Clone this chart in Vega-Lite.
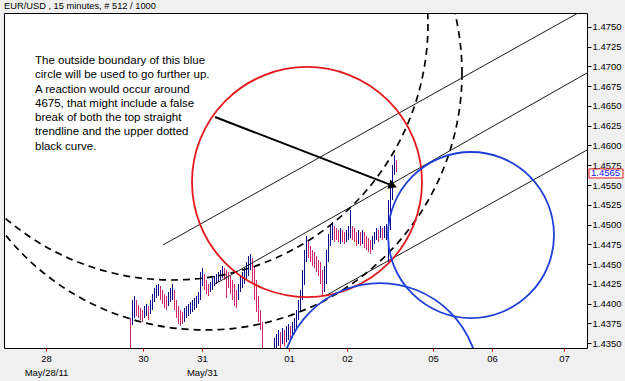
{
  "$schema": "https://vega.github.io/schema/vega-lite/v6.json",
  "width": 583,
  "height": 335,
  "autosize": {"type": "none"},
  "padding": {"left": 4, "top": 13, "right": 38, "bottom": 33},
  "background": "#f0f0f0",
  "config": {
    "view": {"stroke": "#000000", "strokeWidth": 1, "fill": "#ffffff"},
    "font": "Liberation Sans"
  },
  "title": {"text": "EUR/USD , 15 minutes, # 512 / 1000", "anchor": "start", "frame": "group", "fontSize": 9.3, "fontWeight": "normal", "font": "Liberation Sans", "color": "#000000", "offset": 2},
  "encoding": {
    "x": {"field": "t", "type": "quantitative", "scale": {"domain": [0, 583], "nice": false, "zero": false},
      "axis": {"title": null, "values": [42, 139, 198, 285, 343, 429, 488, 560], "grid": false, "domain": false, "tickSize": 3, "tickColor": "#d00000", "labelFontSize": 9.5, "labelColor": "#000000", "labelPadding": 2, "labelLineHeight": 14, "labelOverlap": false, "labelFlush": false,
        "labelExpr": "datum.value == 42 ? ['28', 'May/28/11'] : datum.value == 139 ? '30' : datum.value == 198 ? ['31', 'May/31'] : datum.value == 285 ? '01' : datum.value == 343 ? '02' : datum.value == 429 ? '05' : datum.value == 488 ? '06' : '07'"}},
    "y": {"field": "p", "type": "quantitative", "scale": {"domain": [1.43437, 1.47677], "nice": false, "zero": false},
      "axis": {"title": null, "orient": "right", "values": [1.435, 1.4375, 1.44, 1.4425, 1.445, 1.4475, 1.45, 1.4525, 1.455, 1.4575, 1.46, 1.4625, 1.465, 1.4675, 1.47, 1.4725, 1.475], "format": ".4f", "grid": false, "domain": false, "tickSize": 4, "tickColor": "#000000", "labelFontSize": 9.5, "labelColor": "#000000", "labelPadding": 1, "labelOverlap": false, "labelFlush": false}}
  },
  "layer": [
    {
      "data": {"values": [
        {"t":126,"p2":1.43817,"p":1.43285,"d":"d"},
        {"t":128,"p2":1.44044,"p":1.43728,"d":"u"},
        {"t":130,"p2":1.44095,"p":1.43817,"d":"u"},
        {"t":132,"p2":1.44044,"p":1.43842,"d":"d"},
        {"t":134,"p2":1.43981,"p":1.43817,"d":"d"},
        {"t":136,"p2":1.43943,"p":1.43791,"d":"d"},
        {"t":138,"p2":1.43918,"p":1.43766,"d":"d"},
        {"t":140,"p2":1.43968,"p":1.43817,"d":"u"},
        {"t":142,"p2":1.43994,"p":1.43842,"d":"u"},
        {"t":144,"p2":1.43968,"p":1.43791,"d":"d"},
        {"t":146,"p2":1.44044,"p":1.43867,"d":"u"},
        {"t":148,"p2":1.44120,"p":1.43918,"d":"u"},
        {"t":150,"p2":1.44196,"p":1.44019,"d":"u"},
        {"t":152,"p2":1.44234,"p":1.44070,"d":"u"},
        {"t":154,"p2":1.44247,"p":1.44095,"d":"u"},
        {"t":156,"p2":1.44222,"p":1.44044,"d":"d"},
        {"t":158,"p2":1.44171,"p":1.43994,"d":"d"},
        {"t":160,"p2":1.44120,"p":1.43943,"d":"d"},
        {"t":162,"p2":1.44095,"p":1.43918,"d":"d"},
        {"t":164,"p2":1.44146,"p":1.43968,"d":"u"},
        {"t":166,"p2":1.44196,"p":1.44019,"d":"u"},
        {"t":168,"p2":1.44247,"p":1.44044,"d":"u"},
        {"t":170,"p2":1.44171,"p":1.43918,"d":"d"},
        {"t":172,"p2":1.44044,"p":1.43817,"d":"d"},
        {"t":174,"p2":1.43968,"p":1.43741,"d":"d"},
        {"t":176,"p2":1.43918,"p":1.43715,"d":"d"},
        {"t":178,"p2":1.43892,"p":1.43741,"d":"d"},
        {"t":180,"p2":1.43943,"p":1.43766,"d":"u"},
        {"t":182,"p2":1.43968,"p":1.43817,"d":"u"},
        {"t":184,"p2":1.43994,"p":1.43842,"d":"u"},
        {"t":186,"p2":1.44019,"p":1.43867,"d":"u"},
        {"t":188,"p2":1.44044,"p":1.43892,"d":"u"},
        {"t":190,"p2":1.44070,"p":1.43918,"d":"u"},
        {"t":192,"p2":1.44095,"p":1.43943,"d":"u"},
        {"t":194,"p2":1.44146,"p":1.43994,"d":"u"},
        {"t":196,"p2":1.44399,"p":1.44044,"d":"u"},
        {"t":198,"p2":1.44449,"p":1.44222,"d":"u"},
        {"t":200,"p2":1.44373,"p":1.44171,"d":"d"},
        {"t":202,"p2":1.44298,"p":1.44120,"d":"d"},
        {"t":204,"p2":1.44247,"p":1.44095,"d":"d"},
        {"t":206,"p2":1.44272,"p":1.44146,"d":"u"},
        {"t":208,"p2":1.44323,"p":1.44171,"d":"u"},
        {"t":210,"p2":1.44348,"p":1.44222,"d":"u"},
        {"t":212,"p2":1.44373,"p":1.44247,"d":"u"},
        {"t":214,"p2":1.44399,"p":1.44272,"d":"u"},
        {"t":216,"p2":1.44424,"p":1.44298,"d":"u"},
        {"t":218,"p2":1.44475,"p":1.44323,"d":"u"},
        {"t":220,"p2":1.44449,"p":1.44298,"d":"d"},
        {"t":222,"p2":1.44424,"p":1.44070,"d":"d"},
        {"t":224,"p2":1.44399,"p":1.44196,"d":"d"},
        {"t":226,"p2":1.44348,"p":1.44120,"d":"d"},
        {"t":228,"p2":1.44298,"p":1.44044,"d":"d"},
        {"t":230,"p2":1.44247,"p":1.43968,"d":"d"},
        {"t":232,"p2":1.44171,"p":1.43943,"d":"d"},
        {"t":234,"p2":1.44247,"p":1.44044,"d":"u"},
        {"t":236,"p2":1.44348,"p":1.44146,"d":"u"},
        {"t":238,"p2":1.44399,"p":1.44196,"d":"u"},
        {"t":240,"p2":1.44449,"p":1.44247,"d":"u"},
        {"t":242,"p2":1.44525,"p":1.44298,"d":"u"},
        {"t":244,"p2":1.44601,"p":1.44348,"d":"u"},
        {"t":246,"p2":1.44627,"p":1.44424,"d":"u"},
        {"t":248,"p2":1.44576,"p":1.44272,"d":"d"},
        {"t":250,"p2":1.44475,"p":1.44044,"d":"d"},
        {"t":252,"p2":1.44298,"p":1.43892,"d":"d"},
        {"t":254,"p2":1.44095,"p":1.43766,"d":"d"},
        {"t":256,"p2":1.43918,"p":1.43665,"d":"d"},
        {"t":258,"p2":1.43766,"p":1.43285,"d":"d"},
        {"t":270,"p2":1.43563,"p":1.43285,"d":"u"},
        {"t":272,"p2":1.43614,"p":1.43386,"d":"u"},
        {"t":274,"p2":1.43665,"p":1.43462,"d":"u"},
        {"t":276,"p2":1.43639,"p":1.43437,"d":"d"},
        {"t":278,"p2":1.43690,"p":1.43487,"d":"u"},
        {"t":280,"p2":1.43665,"p":1.43462,"d":"d"},
        {"t":282,"p2":1.43715,"p":1.43513,"d":"u"},
        {"t":284,"p2":1.43741,"p":1.43538,"d":"u"},
        {"t":286,"p2":1.43715,"p":1.43538,"d":"d"},
        {"t":288,"p2":1.43766,"p":1.43563,"d":"u"},
        {"t":290,"p2":1.43817,"p":1.43614,"d":"u"},
        {"t":292,"p2":1.43918,"p":1.43665,"d":"u"},
        {"t":294,"p2":1.44044,"p":1.43791,"d":"u"},
        {"t":296,"p2":1.44171,"p":1.43892,"d":"u"},
        {"t":298,"p2":1.44424,"p":1.44044,"d":"u"},
        {"t":300,"p2":1.44677,"p":1.44234,"d":"u"},
        {"t":302,"p2":1.44855,"p":1.44525,"d":"u"},
        {"t":304,"p2":1.44804,"p":1.44576,"d":"d"},
        {"t":306,"p2":1.44728,"p":1.44525,"d":"d"},
        {"t":308,"p2":1.44677,"p":1.44475,"d":"d"},
        {"t":310,"p2":1.44652,"p":1.44449,"d":"d"},
        {"t":312,"p2":1.44601,"p":1.44399,"d":"d"},
        {"t":314,"p2":1.44551,"p":1.44348,"d":"d"},
        {"t":316,"p2":1.44525,"p":1.44247,"d":"d"},
        {"t":318,"p2":1.44424,"p":1.44095,"d":"d"},
        {"t":320,"p2":1.44475,"p":1.44146,"d":"u"},
        {"t":322,"p2":1.44677,"p":1.44247,"d":"u"},
        {"t":324,"p2":1.44880,"p":1.44525,"d":"u"},
        {"t":326,"p2":1.45006,"p":1.44728,"d":"u"},
        {"t":328,"p2":1.45032,"p":1.44804,"d":"u"},
        {"t":330,"p2":1.44981,"p":1.44779,"d":"d"},
        {"t":332,"p2":1.44956,"p":1.44804,"d":"d"},
        {"t":334,"p2":1.44930,"p":1.44779,"d":"d"},
        {"t":336,"p2":1.44956,"p":1.44753,"d":"u"},
        {"t":338,"p2":1.44930,"p":1.44779,"d":"d"},
        {"t":340,"p2":1.44905,"p":1.44753,"d":"d"},
        {"t":342,"p2":1.44930,"p":1.44779,"d":"u"},
        {"t":344,"p2":1.44981,"p":1.44804,"d":"u"},
        {"t":346,"p2":1.45184,"p":1.44829,"d":"u"},
        {"t":348,"p2":1.44981,"p":1.44804,"d":"d"},
        {"t":350,"p2":1.44956,"p":1.44779,"d":"d"},
        {"t":352,"p2":1.44905,"p":1.44728,"d":"d"},
        {"t":354,"p2":1.44930,"p":1.44753,"d":"u"},
        {"t":356,"p2":1.44905,"p":1.44728,"d":"d"},
        {"t":358,"p2":1.44930,"p":1.44753,"d":"u"},
        {"t":360,"p2":1.44905,"p":1.44703,"d":"d"},
        {"t":362,"p2":1.44855,"p":1.44677,"d":"d"},
        {"t":364,"p2":1.44829,"p":1.44652,"d":"d"},
        {"t":366,"p2":1.44804,"p":1.44627,"d":"d"},
        {"t":368,"p2":1.44855,"p":1.44677,"d":"u"},
        {"t":370,"p2":1.44905,"p":1.44753,"d":"u"},
        {"t":372,"p2":1.44956,"p":1.44804,"d":"u"},
        {"t":374,"p2":1.44930,"p":1.44779,"d":"d"},
        {"t":376,"p2":1.44981,"p":1.44829,"d":"u"},
        {"t":378,"p2":1.44956,"p":1.44804,"d":"d"},
        {"t":380,"p2":1.44981,"p":1.44829,"d":"u"},
        {"t":382,"p2":1.45006,"p":1.44804,"d":"u"},
        {"t":384,"p2":1.45310,"p":1.44525,"d":"u"},
        {"t":386,"p2":1.45563,"p":1.44930,"d":"u"},
        {"t":388,"p2":1.45753,"p":1.45310,"d":"u"},
        {"t":390,"p2":1.45880,"p":1.45627,"d":"u"},
        {"t":392,"p2":1.45817,"p":1.45665,"d":"d"}
      ]},
      "mark": {"type": "rule", "strokeWidth": 1, "xOffset": 0.5, "clip": true},
      "encoding": {
        "y2": {"field": "p2"},
        "color": {"field": "d", "type": "nominal", "scale": {"domain": ["u", "d"], "range": ["#0c0c8a", "#d0246e"]}, "legend": null}
      }
    },
    {
      "data": {"values": [
        {"line": "top", "t": 159, "p": 1.44741},
        {"line": "top", "t": 574, "p": 1.47677},
        {"line": "mid", "t": 211, "p": 1.44247},
        {"line": "mid", "t": 583, "p": 1.46918},
        {"line": "low", "t": 321, "p": 1.44095},
        {"line": "low", "t": 583, "p": 1.45943}
      ]},
      "mark": {"type": "line", "color": "#000000", "strokeWidth": 0.9, "clip": true},
      "encoding": {"detail": {"field": "line", "type": "nominal"}}
    },
    {
      "data": {"values": [{"t": 168, "p": 1.47538}]},
      "mark": {"type": "point", "shape": "circle", "filled": false, "size": 262144, "stroke": "#000000", "strokeWidth": 1.7, "strokeDash": [7, 5], "opacity": 1, "clip": true}
    },
    {
      "data": {"values": [{"t": 201, "p": 1.46918}]},
      "mark": {"type": "point", "shape": "circle", "filled": false, "size": 264196, "stroke": "#000000", "strokeWidth": 1.7, "strokeDash": [7, 5], "opacity": 1, "clip": true}
    },
    {
      "data": {"values": [{"t": 303, "p": 1.45538}]},
      "mark": {"type": "point", "shape": "circle", "filled": false, "size": 52900, "stroke": "#e3191e", "strokeWidth": 1.8, "opacity": 1, "clip": true}
    },
    {
      "data": {"values": [{"t": 467, "p": 1.44867}]},
      "mark": {"type": "point", "shape": "circle", "filled": false, "size": 27556, "stroke": "#1f3fd6", "strokeWidth": 1.8, "opacity": 1, "clip": true}
    },
    {
      "data": {"values": [{"t": 376, "p": 1.43006}]},
      "mark": {"type": "point", "shape": "circle", "filled": false, "size": 39204, "stroke": "#1f3fd6", "strokeWidth": 1.8, "opacity": 1, "clip": true}
    },
    {
      "data": {"values": [
        {"t": 211, "p": 1.46361},
        {"t": 388, "p": 1.45495}
      ]},
      "mark": {"type": "line", "color": "#000000", "strokeWidth": 2}
    },
    {
      "data": {"values": [{"t": 389, "p": 1.45490}]},
      "mark": {"type": "point", "shape": "triangle-right", "filled": true, "color": "#000000", "size": 90, "angle": 21, "opacity": 1}
    },
    {
      "data": {"values": [{"t": 31, "p": 1.47146, "txt": "The outside boundary of this blue\ncircle will be used to go further up.\n\u00a0\u00a0A reaction would occur around\n4675, that might include a false\nbreak of both the top straight\ntrendline and the upper dotted\nblack curve."}]},
      "mark": {"type": "text", "align": "left", "baseline": "top", "fontSize": 11.5, "lineHeight": 14.3, "lineBreak": "\n", "color": "#000000", "font": "Liberation Sans"},
      "encoding": {"text": {"field": "txt"}}
    },
    {
      "data": {"values": [{"t": 585, "p": 1.45703, "t2": 619, "p2": 1.45589}]},
      "mark": {"type": "rect", "fill": "#ffffff", "stroke": "#e3191e", "strokeWidth": 1},
      "encoding": {"x2": {"field": "t2"}, "y2": {"field": "p2"}}
    },
    {
      "data": {"values": [{"t": 587, "p": 1.45646, "txt": "1.4565"}]},
      "mark": {"type": "text", "align": "left", "baseline": "middle", "fontSize": 9.5, "color": "#1010ff", "font": "Liberation Sans"},
      "encoding": {"text": {"field": "txt"}}
    }
  ]
}
